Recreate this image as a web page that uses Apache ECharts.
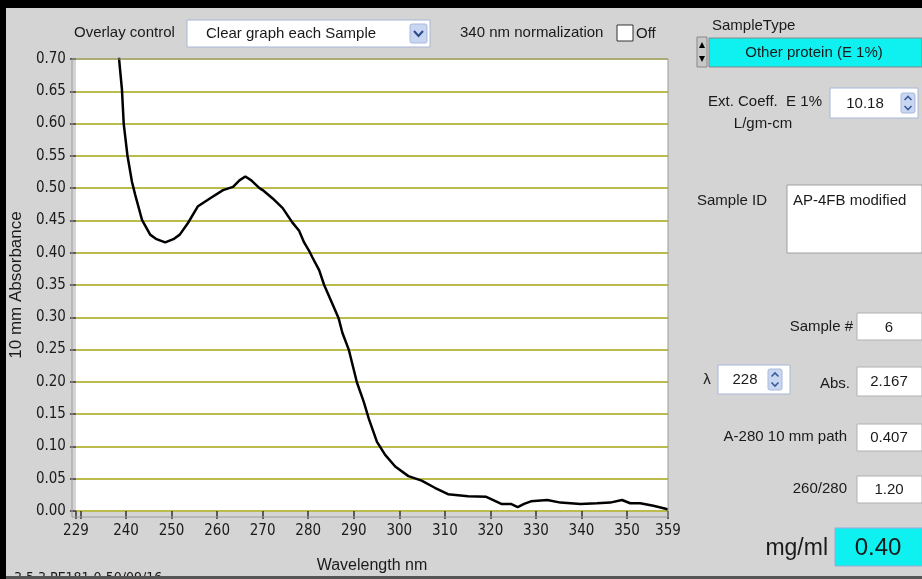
<!DOCTYPE html>
<html>
<head>
<meta charset="utf-8">
<script src="https://cdn.jsdelivr.net/npm/echarts@6/dist/echarts.min.js"></script>
<style>
html,body{margin:0;padding:0;background:#d4d4d4;}
#c{width:922px;height:579px;}
</style>
</head>
<body>
<div id="c"></div>
<script>
// Spectrum data
const wavelengths = [238.0,238.5,239.1,239.5,240.3,241.3,242.0,243.5,245.3,246.7,248.6,250.4,251.8,253.6,255.8,258.4,261.3,263.5,264.9,266.2,267.5,269.3,270.0,272.2,274.4,276.5,278.0,279.1,280.2,280.9,282.4,283.5,285.3,286.7,287.5,288.9,290.7,292.2,293.3,295.1,296.9,299.1,302.0,304.9,307.8,310.7,315.1,319.1,322.4,324.5,326.0,327.4,328.9,332.5,335.4,339.8,343.4,346.3,348.9,350.7,352.9,355.8,358.7,359.0];
const absorbance = [0.76,0.698,0.653,0.599,0.551,0.510,0.490,0.451,0.428,0.421,0.416,0.421,0.428,0.446,0.472,0.484,0.497,0.502,0.512,0.518,0.512,0.500,0.497,0.484,0.469,0.447,0.434,0.416,0.403,0.393,0.373,0.350,0.321,0.298,0.276,0.250,0.199,0.169,0.143,0.107,0.087,0.069,0.054,0.047,0.036,0.026,0.023,0.022,0.011,0.011,0.006,0.011,0.015,0.017,0.013,0.011,0.012,0.013,0.017,0.012,0.012,0.008,0.003,0.002];
const xTickLabels = [229,240,250,260,270,280,290,300,310,320,330,340,350,359];
const xTickMarks = [229,230,240,250,260,270,280,290,300,310,320,330,340,350,359];

const seriesData = wavelengths.map((w,i)=>[w,absorbance[i]]);
const narrow = '"Liberation Sans Narrow","DejaVu Sans Condensed",Arial,sans-serif';
const sans = '"Liberation Sans",Arial,sans-serif';

function txt(x,y,s,size,opt){
  opt = opt||{};
  return {type:'text',z:100,style:Object.assign({x:x,y:y,text:s,fill:'#1a1a1a',
    font:(opt.weight||'normal')+' '+size+'px '+(opt.family||sans),
    textAlign:opt.align||'left',textVerticalAlign:opt.va||'middle'},opt.style||{})};
}
function box(x,y,w,h,fill,stroke){
  return {type:'rect',z:90,shape:{x:x,y:y,width:w,height:h},style:{fill:fill,stroke:stroke||'#b8b8b8',lineWidth:1}};
}
function spinner(x,y,h){
  const w=14, c=x+w/2;
  return [
    {type:'rect',z:95,shape:{x:x,y:y,width:w,height:h,r:2},style:{fill:'#c9d6f2',stroke:'#a9b9dc'}},
    {type:'polyline',z:96,shape:{points:[[c-3.5,y+h/2-3],[c,y+h/2-6.5],[c+3.5,y+h/2-3]]},style:{stroke:'#3a5a9a',lineWidth:1.6,fill:null}},
    {type:'polyline',z:96,shape:{points:[[c-3.5,y+h/2+3],[c,y+h/2+6.5],[c+3.5,y+h/2+3]]},style:{stroke:'#3a5a9a',lineWidth:1.6,fill:null}}
  ];
}

const graphics = [
  // outer frame
  {type:'rect',z:1,shape:{x:0,y:0,width:922,height:8},style:{fill:'#000'}},
  {type:'rect',z:1,shape:{x:0,y:0,width:6,height:579},style:{fill:'#000'}},
  // plot border overlay
  {type:'rect',z:50,shape:{x:72,y:59,width:596,height:458},style:{fill:null,stroke:'#9a9a9a',lineWidth:1}},
  // top controls
  txt(74,33,'Overlay control',15),
  box(187,20,243,27,'#ffffff','#a8b8d8'),
  txt(206,34,'Clear graph each Sample',15),
  {type:'rect',z:95,shape:{x:410,y:24,width:17,height:19,r:2},style:{fill:'#c9d6f2',stroke:'#a9b9dc'}},
  {type:'polyline',z:96,shape:{points:[[414,31],[418.5,36],[423,31]]},style:{stroke:'#2a4a8a',lineWidth:2,fill:null}},
  txt(460,33,'340 nm normalization',15),
  box(617,25,16,16,'#ffffff','#333'),
  txt(636,34,'Off',15),
  // right panel
  txt(712,26,'SampleType',15),
  {type:'rect',z:95,shape:{x:697,y:37,width:10,height:30},style:{fill:'#c8c8c8',stroke:'#888'}},
  {type:'polygon',z:96,shape:{points:[[699,48],[702,42],[705,48]]},style:{fill:'#000'}},
  {type:'polygon',z:96,shape:{points:[[699,56],[702,62],[705,56]]},style:{fill:'#000'}},
  box(709,38,213,29,'#0ff0f0','#888'),
  txt(814,53,'Other protein (E 1%)',15,{align:'center'}),
  txt(765,102,'Ext. Coeff.  E 1%',15,{align:'center'}),
  txt(763,124,'L/gm-cm',15,{align:'center'}),
  box(830,88,88,30,'#ffffff','#a8b8d8'),
  txt(865,104,'10.18',15,{align:'center'}),
  ...spinner(901,93,20),
  txt(697,201,'Sample ID',15),
  box(787,185,135,68,'#ffffff','#a0a0a0'),
  txt(793,201,'AP-4FB modified',15),
  txt(853,327,'Sample #',15,{align:'right'}),
  box(857,313,65,27,'#ffffff','#b0b0b0'),
  txt(889,328,'6',15,{align:'center'}),
  txt(707,380,'\u03BB',15,{align:'center'}),
  box(718,365,72,29,'#ffffff','#a8b8d8'),
  txt(745,380,'228',15,{align:'center'}),
  ...spinner(768,369,21),
  txt(850,384,'Abs.',15,{align:'right'}),
  box(857,367,65,29,'#ffffff','#b0b0b0'),
  txt(889,382,'2.167',15,{align:'center'}),
  txt(847,437,'A-280 10 mm path',15,{align:'right'}),
  box(857,424,65,27,'#ffffff','#b0b0b0'),
  txt(889,438,'0.407',15,{align:'center'}),
  txt(847,489,'260/280',15,{align:'right'}),
  box(857,476,65,27,'#ffffff','#b0b0b0'),
  txt(889,490,'1.20',15,{align:'center'}),
  txt(828,549,'mg/ml',23,{align:'right'}),
  box(835,528,87,38,'#0ff0f0','#9ad'),
  txt(878,548,'0.40',24,{align:'center'}),
  // bottom clipped text
  txt(14,571,'3.5.3 PE181 0.50/09/16',14,{va:'top',family:narrow}),
  {type:'rect',z:101,shape:{x:6,y:576,width:916,height:3},style:{fill:'#555'}}
];

const chart = echarts.init(document.getElementById('c'),null,{renderer:'canvas'});
chart.setOption({
  animation:false,
  backgroundColor:'#d4d4d4',
  grid:{left:72,right:254,top:59,bottom:62,show:true,backgroundColor:'#ffffff',borderWidth:0},
  xAxis:{
    type:'value',min:229,max:359,
    name:'Wavelength nm',nameLocation:'middle',nameGap:47,
    nameTextStyle:{fontSize:16,color:'#1a1a1a',fontFamily:sans},
    axisLine:{show:false},
    axisTick:{show:true,customValues:xTickMarks,length:8,lineStyle:{color:'#333',width:1.5}},
    axisLabel:{customValues:xTickLabels,margin:13,fontSize:15,color:'#1a1a1a',fontFamily:narrow},
    splitLine:{show:false}
  },
  yAxis:{
    type:'value',min:0,max:0.7,interval:0.05,
    name:'10 mm Absorbance',nameLocation:'middle',nameGap:50,
    nameTextStyle:{fontSize:17,color:'#1a1a1a',fontFamily:sans},
    axisLine:{show:false},
    axisTick:{show:true,length:6,lineStyle:{color:'#333',width:1.5}},
    axisLabel:{margin:10,fontSize:15,color:'#1a1a1a',fontFamily:narrow,formatter:v=>v.toFixed(2)},
    splitLine:{show:true,lineStyle:{color:'#bcbc4c',width:2}}
  },
  series:[{
    type:'line',data:seriesData,showSymbol:false,symbol:'none',clip:true,
    lineStyle:{color:'#000',width:2.5},z:10
  }],
  graphic:graphics
});
</script>
</body>
</html>
